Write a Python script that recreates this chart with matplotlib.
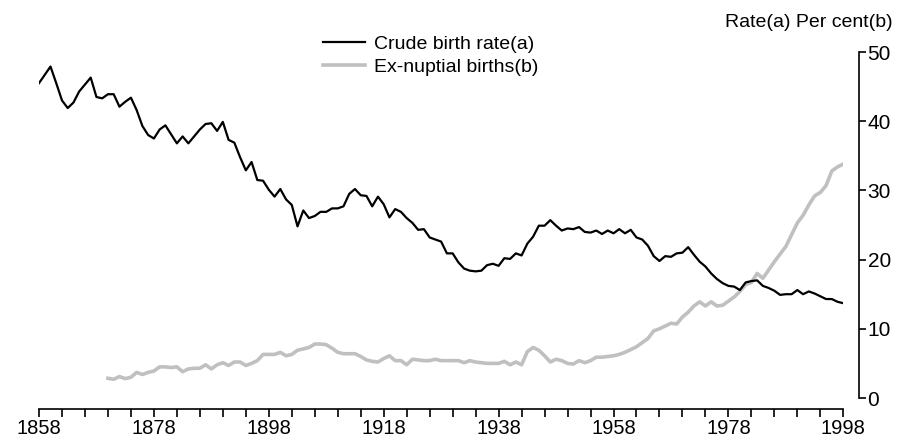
import numpy as np
import matplotlib
matplotlib.use('Agg')
import matplotlib.pyplot as plt

plt.rcParams['font.family'] = ['Liberation Sans', 'DejaVu Sans']

# Crude birth rate (per 1,000 population), 1858-1998
birth_years = np.arange(1858, 1999)
birth_rate = [
    45.5, 46.7, 47.9, 45.5, 43.0, 41.9, 42.7, 44.3, 45.3, 46.3,   # 1858-1867
    43.5, 43.3, 43.9, 43.9, 42.1, 42.8, 43.4, 41.6, 39.3, 38.0,   # 1868-1877
    37.5, 38.8, 39.4, 38.1, 36.8, 37.8, 36.8, 37.8, 38.8, 39.6,   # 1878-1887
    39.7, 38.6, 39.9, 37.3, 36.9, 34.8, 32.9, 34.1, 31.5, 31.4,   # 1888-1897
    30.1, 29.1, 30.2, 28.7, 27.9, 24.8, 27.1, 26.0, 26.3, 26.9,   # 1898-1907
    26.9, 27.4, 27.4, 27.7, 29.5, 30.2, 29.3, 29.2, 27.7, 29.1,   # 1908-1917
    28.0, 26.1, 27.3, 26.9, 26.0, 25.3, 24.3, 24.4, 23.2, 22.9,   # 1918-1927
    22.6, 20.9, 20.9, 19.6, 18.7, 18.4, 18.3, 18.4, 19.2, 19.4,   # 1928-1937
    19.1, 20.2, 20.1, 20.9, 20.6, 22.3, 23.3, 24.9, 24.9, 25.7,   # 1938-1947
    24.9, 24.2, 24.5, 24.4, 24.7, 24.0, 23.9, 24.2, 23.7, 24.2,   # 1948-1957
    23.8, 24.4, 23.8, 24.3, 23.2, 22.9, 22.0, 20.5, 19.8, 20.5,   # 1958-1967
    20.4, 20.9, 21.0, 21.8, 20.7, 19.7, 19.0, 18.0, 17.2, 16.6,   # 1968-1977
    16.2, 16.1, 15.6, 16.7, 16.9, 17.0, 16.2, 15.9, 15.5, 14.9,   # 1978-1987
    15.0, 15.0, 15.6, 15.0, 15.4, 15.1, 14.7, 14.3, 14.3, 13.9,   # 1988-1997
    13.7,                                                         # 1998
]

# Ex-nuptial births (per cent of all births), 1870-1998
exnup_years = np.arange(1870, 1999)
exnuptial = [
    2.85, 2.7, 3.1, 2.8, 3.0, 3.7, 3.4, 3.7, 3.9, 4.5,            # 1870-1879
    4.5, 4.4, 4.5, 3.8, 4.2, 4.3, 4.3, 4.8, 4.2, 4.8,             # 1880-1889
    5.1, 4.7, 5.2, 5.2, 4.7, 5.0, 5.4, 6.3, 6.3, 6.3,             # 1890-1899
    6.6, 6.1, 6.3, 6.9, 7.1, 7.3, 7.8, 7.8, 7.7, 7.2,             # 1900-1909
    6.6, 6.4, 6.4, 6.4, 6.0, 5.5, 5.3, 5.2, 5.7, 6.1,             # 1910-1919
    5.4, 5.4, 4.8, 5.6, 5.5, 5.4, 5.4, 5.6, 5.4, 5.4,             # 1920-1929
    5.4, 5.4, 5.1, 5.4, 5.2, 5.1, 5.0, 5.0, 5.0, 5.3,             # 1930-1939
    4.8, 5.2, 4.8, 6.7, 7.3, 6.9, 6.1, 5.2, 5.6, 5.4,             # 1940-1949
    5.0, 4.9, 5.4, 5.1, 5.4, 5.9, 5.9, 6.0, 6.1, 6.3,             # 1950-1959
    6.6, 7.0, 7.4, 8.0, 8.6, 9.7, 10.0, 10.4, 10.8, 10.7,         # 1960-1969
    11.7, 12.4, 13.3, 13.9, 13.3, 13.9, 13.3, 13.4, 14.0, 14.6,   # 1970-1979
    15.4, 16.4, 16.7, 18.0, 17.3, 18.5, 19.7, 20.8, 21.9, 23.6,   # 1980-1989
    25.3, 26.4, 27.9, 29.2, 29.7, 30.7, 32.8, 33.4, 33.8,         # 1990-1998
]

x_ticks = np.arange(1858, 1999, 4)
x_labels = [str(y) if (y - 1858) % 20 == 0 else '' for y in x_ticks]
y_ticks = [0, 10, 20, 30, 40, 50]

fig = plt.figure(figsize=(8.99, 4.41), dpi=100)
ax = fig.add_axes([39 / 899, 43 / 441, 804.3 / 899, 346 / 441])

ax.plot(exnup_years, exnuptial, color='#c0c0c0', linewidth=2.6,
        solid_joinstyle='round', label='Ex-nuptial births(b)')
ax.plot(birth_years, birth_rate, color='black', linewidth=1.6,
        label='Crude birth rate(a)')

ax.set_xlim(1858, 1998)
ax.set_ylim(0, 50)

for side in ['left', 'top']:
    ax.spines[side].set_visible(False)
ax.spines['bottom'].set_position(('outward', 8))
ax.spines['right'].set_position(('outward', 11))
ax.spines['bottom'].set_bounds(1858, 1998)
ax.spines['right'].set_bounds(0, 50)
ax.spines['bottom'].set_linewidth(1.2)
ax.spines['right'].set_linewidth(1.2)

ax.yaxis.tick_right()
ax.set_xticks(x_ticks)
ax.set_xticklabels(x_labels)
ax.set_yticks(y_ticks)
ax.tick_params(axis='x', direction='out', length=5.5, width=1.2, pad=1.5, labelsize=14.5)
ax.tick_params(axis='y', direction='out', length=5, width=1.2, pad=1.5, labelsize=15)

handles, labels = ax.get_legend_handles_labels()
ax.legend(handles[::-1], labels[::-1], loc='center left',
          bbox_to_anchor=(322.7 / 899, 1 - 55.5 / 441), bbox_transform=fig.transFigure,
          frameon=False, fontsize=14, handlelength=2.2, handletextpad=0.45,
          labelspacing=0.25, borderpad=0, borderaxespad=0)

fig.text(893 / 899, 1 - 27 / 441, 'Rate(a) Per cent(b)', ha='right', va='baseline', fontsize=14)

fig.savefig('out.png', dpi=100)
